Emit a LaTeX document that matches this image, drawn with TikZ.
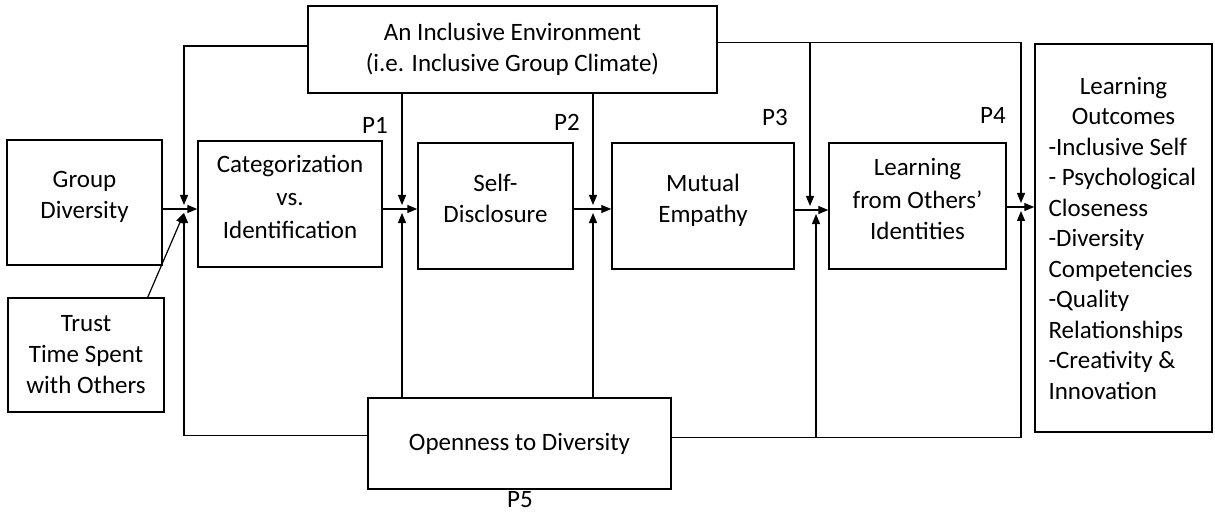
\documentclass[tikz,border=0pt]{standalone}
\usepackage{fontspec}
\setmainfont{Carlito}
\usetikzlibrary{arrows.meta}

\tikzset{
  box/.style={draw, line width=1.5pt, align=center, inner sep=0pt,
    font=\fontsize{25pt}{31pt}\selectfont},
  raised/.style={text depth=15pt},
  arr/.style={-{Triangle[length=10pt,width=8pt]}, line width=1.2pt},
  plabel/.style={inner sep=0pt, font=\fontsize{25pt}{31pt}\selectfont}
}

\begin{document}
\begin{tikzpicture}[x=1pt,y=-1pt]
\useasboundingbox (0,0) rectangle (1215,513);

% Boxes
\node[box, raised, minimum width=155pt, minimum height=125pt] (group) at (84.5,202.5) {Group\\Diversity};
\node[box, minimum width=156pt, minimum height=114pt] (trust) at (86,355) {Trust\\Time Spent\\with Others};
\node[box, raised, minimum width=184pt, minimum height=126pt] (categ) at (290,204) {Categorization\\[2pt]vs.\\[2pt]Identification};
\node[box, raised, minimum width=155pt, minimum height=126pt] (disclose) at (495.5,206) {Self-\\Disclosure};
\node[box, raised, minimum width=182pt, minimum height=126pt] (empathy) at (703,206) {Mutual\\Empathy};
\node[box, raised, minimum width=177pt, minimum height=126pt] (learnfrom) at (917.5,206) {Learning\\[2pt]from Others’\\Identities};
\node[box, minimum width=409pt, minimum height=87pt] (climate) at (512.5,49.5) {An Inclusive Environment\\(i.e. Inclusive Group Climate)};
\node[box, minimum width=303pt, minimum height=91pt] (openness) at (519.5,443.5) {Openness to Diversity};
\node[box, minimum width=177pt, minimum height=388pt, text width=150pt, align=flush left,
  font=\fontsize{25pt}{30.5pt}\selectfont] (outcomes) at (1123.5,238)
  {\makebox[150pt]{Learning}\\\makebox[150pt]{Outcomes}\\-Inclusive Self\\- Psychological\\Closeness\\-Diversity\\Competencies\\-Quality\\Relationships\\-Creativity \&\\Innovation};

% Labels
\node[plabel] (p1) at (375,125) {P1};
\node[plabel] (p2) at (567,122) {P2};
\node[plabel] (p3) at (775,117) {P3};
\node[plabel] (p4) at (993,115) {P4};
\node[plabel] (p5) at (520,500) {P5};

% Junctions
\coordinate (ja) at (184,209);
\coordinate (jb) at (402,209);
\coordinate (jc) at (593,209);
\coordinate (jd) at (810,210);
\coordinate (jd2) at (816,210);
\coordinate (je) at (1021,207);
\coordinate (toprail) at ([yshift=7pt]climate.east);
\coordinate (botrail) at ([yshift=6pt]openness.east);

% Main chain
\draw[arr] (group.east |- ja) -- (categ.west |- ja);
\draw[arr] (categ.east |- jb) -- (disclose.west |- jb);
\draw[arr] (disclose.east |- jc) -- (empathy.west |- jc);
\draw[arr] (empathy.east |- jd) -- (learnfrom.west |- jd);
\draw[arr] (learnfrom.east |- je) -- (outcomes.west |- je);

% From the climate
\draw[arr] ([yshift=3.5pt]climate.west) -| ([yshift=4pt]ja);
\draw[arr] (climate.south -| jb) -- ([yshift=4pt]jb);
\draw[arr] (climate.south -| jc) -- ([yshift=4pt]jc);
\draw[arr] (toprail) -| ([yshift=4pt]je);
\draw[arr] (toprail -| jd) -- ([yshift=4pt]jd);

% From openness
\draw[arr] ([yshift=8pt]openness.west) -| ([yshift=-4pt]ja);
\draw[arr] (openness.north -| jb) -- ([yshift=-4pt]jb);
\draw[arr] (openness.north -| jc) -- ([yshift=-4pt]jc);
\draw[arr] (botrail) -| ([yshift=-4pt]je);
\draw[arr] (botrail -| jd2) -- ([yshift=-4pt]jd2);

% Trust
\draw[arr] ([xshift=-17pt]trust.north east) -- ([yshift=-4pt]ja);

\end{tikzpicture}
\end{document}
